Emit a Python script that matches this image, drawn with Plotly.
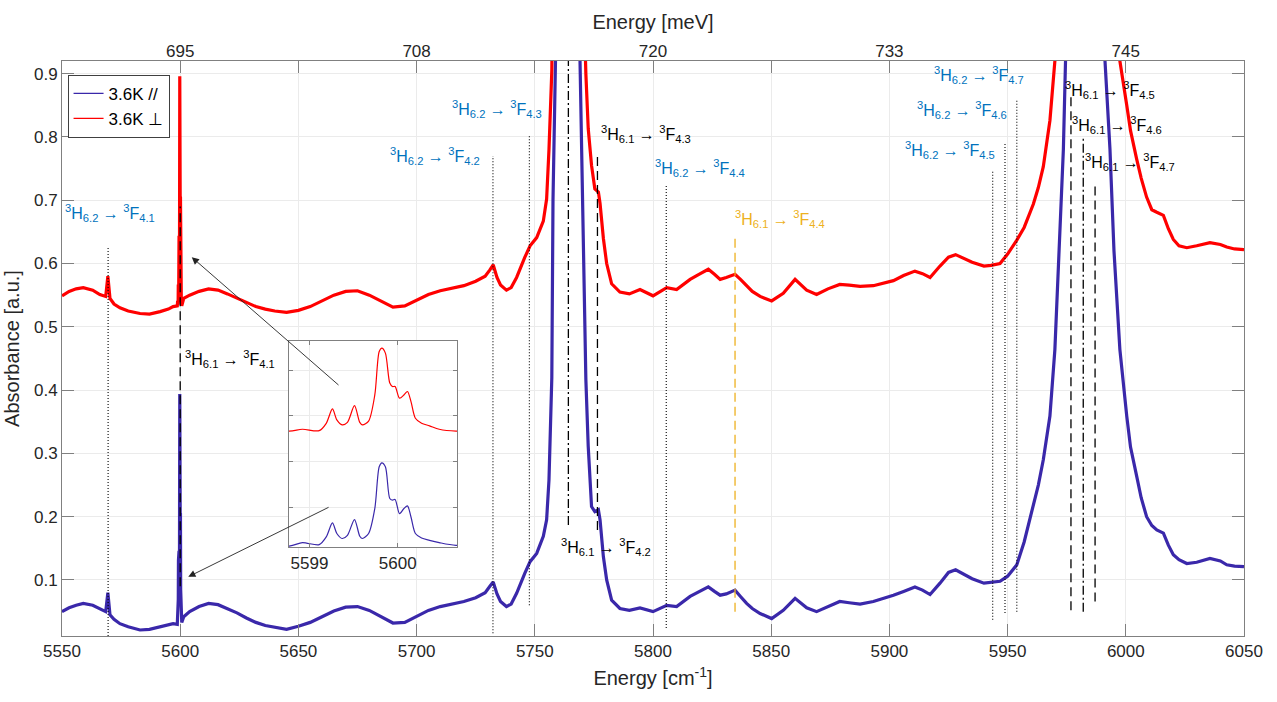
import plotly.graph_objects as go

# ---------------- data ----------------
wavenumber = [
    5550, 5553, 5556, 5559, 5563, 5566, 5568.5, 5569.4, 5570.3, 5572, 5574.5, 5578, 5583, 5587, 5591.5, 5595, 5597,
    5598.77, 5598.92, 5599.11, 5599.19, 5599.26, 5599.31, 5599.37, 5599.43, 5599.51, 5599.57, 5599.60, 5599.67,
    5599.74, 5599.79, 5599.82, 5599.86, 5599.91, 5599.94, 5599.97, 5600.02, 5600.07, 5600.11, 5600.15, 5600.20,
    5600.27, 5600.36, 5600.47, 5600.66,
    5601.5, 5604, 5608, 5612, 5616, 5620, 5624, 5628, 5632, 5636, 5640, 5645, 5650, 5655, 5660, 5665, 5670, 5675,
    5680, 5685, 5690, 5695, 5700, 5705, 5710, 5715, 5720, 5725, 5729,
    5731, 5732.4, 5734, 5735.5, 5738, 5740, 5742.3, 5744, 5745.8, 5748, 5750.8, 5753.6, 5755, 5756, 5756.7, 5757.2,
    5757.7, 5758.5, 5760, 5762, 5764, 5766, 5768, 5769, 5770.5, 5771.6,
    5772.6, 5774, 5775.4, 5776.9, 5777.6, 5779, 5780.4, 5782.5, 5786, 5790, 5794.5, 5800, 5805.8, 5810, 5815.7,
    5820, 5823.4, 5826, 5828.4, 5831, 5834.7, 5837, 5839.6, 5842, 5845.3, 5850.2,
    5855.1, 5860.1, 5865, 5869.2, 5874, 5879, 5883, 5887.6, 5893.2, 5897, 5901.7, 5906, 5910.8, 5914, 5917.2,
    5921.4, 5925, 5928, 5931, 5935, 5940, 5943, 5946.8, 5950, 5953.9, 5957, 5960.9, 5963, 5965.1, 5967.9, 5970,
    5971.5, 5972.9, 5973.6, 5974.5, 5976, 5978, 5980, 5982, 5984, 5986, 5988, 5990, 5991.2, 5992.3, 5993.3, 5995,
    5997.5, 6000.4, 6002, 6004.6, 6006.5, 6008.8, 6011, 6013.1, 6015.9, 6018, 6020.1, 6022.5, 6025.8, 6030, 6035.6,
    6040, 6042.7, 6046, 6050,
]

absorbance_par = [
    0.050, 0.056, 0.060, 0.063, 0.060, 0.055, 0.050, 0.080, 0.045, 0.038, 0.031, 0.026, 0.021, 0.022, 0.026, 0.029, 0.031,
    0.030, 0.045, 0.036, 0.070, 0.131, 0.085, 0.063, 0.077, 0.146, 0.073, 0.063, 0.085,
    0.194, 0.377, 0.394, 0.377, 0.238, 0.231, 0.234, 0.172, 0.194, 0.206, 0.157, 0.085,
    0.065, 0.055, 0.045, 0.033,
    0.042, 0.050, 0.058, 0.063, 0.061, 0.055, 0.048, 0.040, 0.033, 0.028, 0.025, 0.022, 0.027, 0.033, 0.042, 0.051, 0.057, 0.058,
    0.052, 0.042, 0.032, 0.033, 0.043, 0.052, 0.058, 0.062, 0.066, 0.072, 0.080,
    0.090, 0.097, 0.078, 0.066, 0.058, 0.062, 0.079, 0.095, 0.111, 0.129, 0.142, 0.169, 0.195, 0.258, 0.364, 0.420,
    0.70, 1.00, 1.35, 1.60, 1.70, 1.50, 1.15, 0.95, 0.62, 0.417,
    0.311, 0.216, 0.208, 0.211, 0.195, 0.137, 0.100, 0.068, 0.055, 0.052, 0.056, 0.050, 0.060, 0.058, 0.074,
    0.082, 0.089, 0.082, 0.076, 0.078, 0.084, 0.074, 0.063, 0.055, 0.047, 0.039,
    0.052, 0.071, 0.056, 0.050, 0.058, 0.066, 0.064, 0.062, 0.066, 0.070, 0.076, 0.082, 0.089, 0.084, 0.077,
    0.095, 0.112, 0.116, 0.110, 0.102, 0.095, 0.096, 0.098, 0.106, 0.124, 0.160, 0.216, 0.250, 0.290, 0.359, 0.464,
    0.596, 0.728, 0.781, 0.92, 1.30, 1.80, 2.30, 2.50, 2.30, 1.80, 1.40, 1.05, 0.92, 0.85, 0.781, 0.620,
    0.464, 0.359, 0.310, 0.264, 0.230, 0.200, 0.186, 0.179, 0.174, 0.155, 0.140, 0.132, 0.126, 0.128, 0.134,
    0.130, 0.124, 0.122, 0.121,
]

absorbance_perp = [
    0.549, 0.556, 0.560, 0.562, 0.558, 0.551, 0.548, 0.580, 0.545, 0.536, 0.530, 0.525, 0.521, 0.520, 0.524, 0.528, 0.532,
    0.533, 0.541, 0.535, 0.567, 0.630, 0.582, 0.560, 0.571, 0.644, 0.571, 0.560, 0.577,
    0.691, 0.881, 0.896, 0.874, 0.743, 0.728, 0.728, 0.677, 0.691, 0.706, 0.662, 0.589,
    0.567, 0.556, 0.541, 0.533,
    0.545, 0.550, 0.556, 0.560, 0.558, 0.552, 0.545, 0.538, 0.532, 0.528, 0.525, 0.523, 0.526, 0.532, 0.541, 0.550, 0.556, 0.557,
    0.550, 0.541, 0.531, 0.533, 0.542, 0.551, 0.557, 0.561, 0.565, 0.572, 0.580,
    0.590, 0.598, 0.578, 0.566, 0.558, 0.562, 0.578, 0.594, 0.610, 0.628, 0.641, 0.667, 0.702, 0.780, 0.860, 0.905,
    1.10, 1.40, 1.80, 2.10, 2.20, 2.00, 1.60, 1.40, 1.05, 0.90,
    0.813, 0.755, 0.718, 0.713, 0.695, 0.640, 0.600, 0.568, 0.555, 0.552, 0.559, 0.549, 0.562, 0.559, 0.575,
    0.584, 0.591, 0.583, 0.575, 0.578, 0.583, 0.575, 0.565, 0.556, 0.548, 0.541,
    0.553, 0.575, 0.558, 0.551, 0.560, 0.567, 0.566, 0.564, 0.565, 0.569, 0.573, 0.581, 0.588, 0.584, 0.578,
    0.596, 0.610, 0.614, 0.609, 0.602, 0.596, 0.597, 0.600, 0.615, 0.637, 0.657, 0.694, 0.720, 0.753, 0.826, 0.920,
    1.05, 1.20, 1.30, 1.45, 1.80, 2.30, 2.80, 3.00, 2.80, 2.30, 1.90, 1.55, 1.40, 1.30, 1.20, 1.08,
    0.920, 0.850, 0.810, 0.765, 0.735, 0.705, 0.685, 0.681, 0.676, 0.655, 0.638, 0.628, 0.625, 0.628, 0.633,
    0.630, 0.626, 0.623, 0.622,
]

series_names = ["3.6K //", "3.6K \u22a5"]

x_ticks = [5550, 5600, 5650, 5700, 5750, 5800, 5850, 5900, 5950, 6000, 6050]
mev_tick_pos = [5600, 5700, 5800, 5900, 6000]
mev_tick_labels = ["695", "708", "720", "733", "745"]
y_ticks = [0.1, 0.2, 0.3, 0.4, 0.5, 0.6, 0.7, 0.8, 0.9]
inset_x_ticks = [5599, 5600]
inset_y_ticks = [0.2, 0.4, 0.6, 0.8]

# transitions from 3H6.2 (dotted markers)
h62_pos = [5569.5, 5732.3, 5747.7, 5805.6, 5943.7, 5948.9, 5953.9]
h62_top = [0.626, 0.770, 0.802, 0.724, 0.747, 0.789, 0.858]
h62_bottom = [0.0115, 0.016, 0.060, 0.024, 0.037, 0.048, 0.050]
h62_final = ["4.1", "4.2", "4.3", "4.4", "4.5", "4.6", "4.7"]

# transitions from 3H6.1 (dashed / dash-dot markers)
h61_pos = [5600.0, 5764.2, 5776.5, 5834.7, 5976.8, 5982.0, 5987.0]
h61_top = [0.690, 0.920, 0.773, 0.644, 0.864, 0.797, 0.728]
h61_bottom = [0.090, 0.187, 0.179, 0.050, 0.052, 0.050, 0.066]
h61_final = ["4.1", "4.2", "4.3", "4.4", "4.5", "4.6", "4.7"]

# ---------------- styles / layout ----------------
FONT = "Liberation Sans, Arial, Helvetica, sans-serif"
BLUE_LINE = "#3a28aa"
RED_LINE = "#ff0000"
LABEL_BLUE = "#0072BD"
LABEL_YELLOW = "#EDB120"
AXIS_COL = "#808080"
GRID_COL = "#ebebeb"

h62_label_xy = [(5570.3, 0.680), (5707.8, 0.770), (5734.0, 0.844), (5819.7, 0.751),
                (5925.6, 0.779), (5930.5, 0.842), (5937.7, 0.898)]
h61_label_xy = [(5620.9, 0.449), (5780.3, 0.152), (5797.2, 0.805), (5853.7, 0.670),
                (5993.5, 0.874), (5996.1, 0.819), (6001.6, 0.760)]
h61_dash = ["9px,5px", "9px,3px,2px,3px", "9px,5px", "9px,5px", "9px,5px", "9px,3px,2px,3px", "9px,5px"]
h61_color = ["#000000", "#000000", "#000000", LABEL_YELLOW, "#000000", "#000000", "#000000"]

fig = go.Figure()

# main curves (thick, to mimic the noisy band)
fig.add_trace(go.Scatter(x=wavenumber, y=absorbance_par, mode="lines", name=series_names[0],
                         line=dict(color=BLUE_LINE, width=3.2), showlegend=False,
                         xaxis="x", yaxis="y", hoverinfo="skip"))
fig.add_trace(go.Scatter(x=wavenumber, y=absorbance_perp, mode="lines", name=series_names[1],
                         line=dict(color=RED_LINE, width=3.2), showlegend=False,
                         xaxis="x2", yaxis="y", hoverinfo="skip"))

# inset curves (also used for the legend)
fig.add_trace(go.Scatter(x=wavenumber, y=absorbance_par, mode="lines", name=series_names[0],
                         line=dict(color=BLUE_LINE, width=1.2, shape="spline", smoothing=0.8),
                         showlegend=True, xaxis="x3", yaxis="y3", hoverinfo="skip"))
fig.add_trace(go.Scatter(x=wavenumber, y=absorbance_perp, mode="lines", name=series_names[1],
                         line=dict(color=RED_LINE, width=1.2, shape="spline", smoothing=0.8),
                         showlegend=True, xaxis="x3", yaxis="y3", hoverinfo="skip"))

# transition markers
for p, t, b in zip(h62_pos, h62_top, h62_bottom):
    fig.add_shape(type="line", xref="x", yref="y", x0=p, x1=p, y0=b, y1=t,
                  line=dict(color="#000000", width=1.1, dash="1px,2px"))
for p, t, b, d, c in zip(h61_pos, h61_top, h61_bottom, h61_dash, h61_color):
    fig.add_shape(type="line", xref="x", yref="y", x0=p, x1=p, y0=b, y1=t,
                  line=dict(color=c, width=1.3, dash=d))

# labels
for f, (lx, ly) in zip(h62_final, h62_label_xy):
    fig.add_annotation(x=lx, y=ly, xref="x", yref="y", showarrow=False,
                       text=f"<sup>3</sup>H<sub>6.2</sub> \u2192 <sup>3</sup>F<sub>{f}</sub>",
                       font=dict(family=FONT, size=16, color=LABEL_BLUE),
                       xanchor="center", yanchor="middle")
for f, (lx, ly), c in zip(h61_final, h61_label_xy, h61_color):
    fig.add_annotation(x=lx, y=ly, xref="x", yref="y", showarrow=False,
                       text=f"<sup>3</sup>H<sub>6.1</sub> \u2192 <sup>3</sup>F<sub>{f}</sub>",
                       font=dict(family=FONT, size=16, color=c),
                       xanchor="center", yanchor="middle")

# arrows from the inset to the 5600 cm-1 peaks
fig.add_annotation(x=5604.9, y=0.610, ax=5667.6, ay=0.406, xref="x", yref="y", axref="x", ayref="y",
                   text="", showarrow=True, arrowhead=2, arrowsize=1.6, arrowwidth=0.9, arrowcolor="#222222")
fig.add_annotation(x=5603.4, y=0.105, ax=5663.4, ay=0.216, xref="x", yref="y", axref="x", ayref="y",
                   text="", showarrow=True, arrowhead=2, arrowsize=1.6, arrowwidth=0.9, arrowcolor="#222222")

tickfont = dict(family=FONT, size=17, color="#262626")
titlefont = dict(family=FONT, size=20, color="#262626")

fig.update_layout(
    width=1277, height=702,
    margin=dict(l=62, r=33, t=61, b=66),
    paper_bgcolor="white", plot_bgcolor="white",
    font=dict(family=FONT, color="#262626"),
    showlegend=True,
    legend=dict(x=0.0047, y=0.976, xanchor="left", yanchor="top",
                bgcolor="white", bordercolor="#404040", borderwidth=1,
                font=dict(family=FONT, size=17, color="#000000"),
                tracegroupgap=0, itemwidth=30),
    xaxis=dict(range=[5550, 6050], tickvals=x_ticks, ticks="inside", ticklen=12, tickcolor=AXIS_COL,
               showline=True, linecolor=AXIS_COL, linewidth=1, mirror="ticks",
               showgrid=True, gridcolor=GRID_COL, zeroline=False, tickfont=tickfont,
               title=dict(text="Energy [cm<sup>-1</sup>]", font=titlefont, standoff=10)),
    xaxis2=dict(range=[5550, 6050], overlaying="x", side="top", anchor="y",
                tickvals=mev_tick_pos, ticktext=mev_tick_labels, ticks="",
                showline=False, showgrid=False, zeroline=False, tickfont=tickfont,
                title=dict(text="Energy [meV]", font=titlefont, standoff=6)),
    yaxis=dict(range=[0.0115, 0.92], tickvals=y_ticks, tickformat=".1f", ticks="inside", ticklen=12,
               tickcolor=AXIS_COL, showline=True, linecolor=AXIS_COL, linewidth=1, mirror="ticks",
               showgrid=True, gridcolor=GRID_COL, zeroline=False, tickfont=tickfont,
               title=dict(text="Absorbance [a.u.]", font=titlefont, standoff=8)),
    xaxis3=dict(domain=[0.1919, 0.3343], anchor="y3", range=[5598.766, 5600.673],
                tickvals=inset_x_ticks, ticks="inside", ticklen=4, tickcolor=AXIS_COL,
                showline=True, linecolor=AXIS_COL, linewidth=1, mirror="ticks",
                showgrid=True, gridcolor=GRID_COL, zeroline=False, tickfont=tickfont),
    yaxis3=dict(domain=[0.1543, 0.5130], anchor="x3", range=[0.0246, 0.927],
                tickvals=inset_y_ticks, showticklabels=False, ticks="inside", ticklen=4, tickcolor=AXIS_COL,
                showline=True, linecolor=AXIS_COL, linewidth=1, mirror="ticks",
                showgrid=True, gridcolor=GRID_COL, zeroline=False),
)

fig.write_html("out.html", config={"displayModeBar": False})
